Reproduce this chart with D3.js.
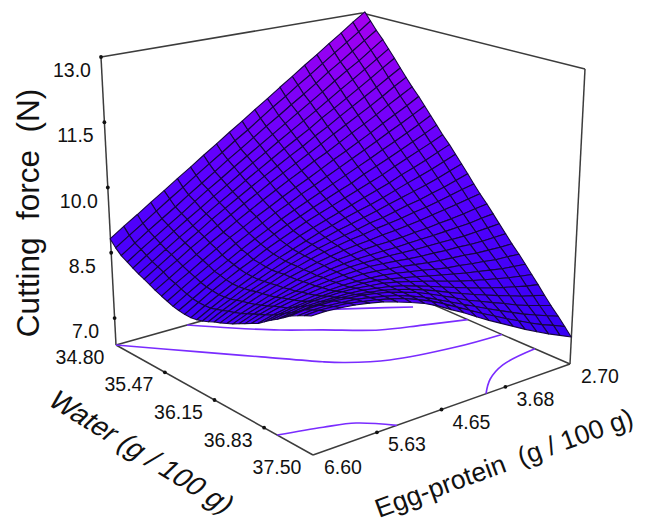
<!DOCTYPE html>
<html>
<head>
<meta charset="utf-8">
<script src="https://cdn.jsdelivr.net/npm/d3@7"></script>
<style>
body { margin: 0; background: #fff; }
text { font-family: "Liberation Sans", Arial, sans-serif; fill: #111; white-space: pre; }
</style>
</head>
<body>
<div id="chart"></div>
<script>
// values
var water = [34.8,34.88,34.96,35.05,35.13,35.21,35.29,35.37,35.45,35.54,35.62,35.7,35.78,35.86,35.95,36.03,36.11,36.19,36.27,36.35,36.44,36.52,36.6,36.68,36.76,36.85,36.93,37.01,37.09,37.17,37.25,37.34,37.42,37.5];
var egg = [2.7,2.895,3.09,3.285,3.48,3.675,3.87,4.065,4.26,4.455,4.65,4.845,5.04,5.235,5.43,5.625,5.82,6.015,6.21,6.405,6.6];
// cutting force, one row per water value, one column per egg value
var force = [
[13,12.8,12.59,12.39,12.18,11.98,11.77,11.57,11.36,11.16,10.95,10.75,10.54,10.34,10.13,9.93,9.72,9.52,9.31,9.11,8.9],
[12.82,12.61,12.41,12.21,12.01,11.8,11.61,11.4,11.21,11,10.79,10.6,10.39,10.19,9.99,9.78,9.58,9.37,9.16,8.96,8.75],
[12.64,12.44,12.24,12.04,11.85,11.64,11.44,11.25,11.05,10.86,10.66,10.46,10.27,10.06,9.86,9.66,9.45,9.25,9.05,8.84,8.63],
[12.46,12.26,12.06,11.88,11.69,11.49,11.3,11.11,10.92,10.73,10.54,10.35,10.16,9.96,9.77,9.57,9.36,9.16,8.96,8.76,8.55],
[12.28,12.09,11.9,11.71,11.53,11.34,11.15,10.97,10.79,10.61,10.42,10.24,10.05,9.86,9.67,9.47,9.28,9.08,8.88,8.68,8.47],
[12.1,11.92,11.73,11.55,11.37,11.19,11.02,10.83,10.66,10.49,10.31,10.13,9.95,9.76,9.58,9.39,9.19,9,8.8,8.6,8.4],
[11.91,11.74,11.56,11.39,11.22,11.05,10.87,10.71,10.53,10.37,10.2,10.03,9.86,9.68,9.5,9.32,9.12,8.93,8.74,8.54,8.34],
[11.73,11.57,11.39,11.22,11.06,10.9,10.74,10.57,10.41,10.25,10.09,9.93,9.76,9.59,9.41,9.23,9.05,8.87,8.67,8.48,8.28],
[11.55,11.39,11.23,11.06,10.9,10.75,10.59,10.43,10.29,10.13,9.98,9.82,9.66,9.49,9.32,9.14,8.97,8.78,8.6,8.4,8.21],
[11.37,11.21,11.06,10.91,10.75,10.6,10.45,10.31,10.16,10.01,9.87,9.72,9.56,9.41,9.24,9.08,8.9,8.72,8.53,8.35,8.15],
[11.19,11.04,10.89,10.75,10.6,10.46,10.32,10.18,10.04,9.9,9.77,9.62,9.48,9.32,9.16,9,8.82,8.66,8.48,8.29,8.1],
[11.01,10.86,10.72,10.58,10.45,10.31,10.18,10.05,9.92,9.79,9.66,9.53,9.39,9.24,9.09,8.93,8.76,8.59,8.42,8.24,8.05],
[10.83,10.69,10.56,10.43,10.3,10.18,10.06,9.92,9.81,9.69,9.57,9.44,9.32,9.18,9.03,8.88,8.72,8.56,8.38,8.2,8.02],
[10.65,10.52,10.4,10.28,10.16,10.03,9.92,9.81,9.7,9.59,9.48,9.37,9.24,9.11,8.98,8.82,8.68,8.52,8.36,8.18,8],
[10.47,10.35,10.23,10.12,10.02,9.9,9.8,9.7,9.6,9.5,9.4,9.3,9.19,9.06,8.93,8.8,8.65,8.5,8.34,8.18,8],
[10.29,10.18,10.07,9.97,9.88,9.78,9.68,9.59,9.51,9.43,9.33,9.24,9.13,9.02,8.91,8.78,8.64,8.5,8.35,8.19,8.02],
[10.11,10.01,9.91,9.82,9.74,9.66,9.58,9.5,9.42,9.35,9.28,9.19,9.11,9,8.89,8.77,8.64,8.52,8.37,8.23,8.06],
[9.93,9.84,9.75,9.68,9.6,9.54,9.47,9.4,9.35,9.28,9.22,9.15,9.08,8.99,8.89,8.78,8.66,8.54,8.41,8.27,8.11],
[9.74,9.68,9.61,9.54,9.48,9.43,9.37,9.32,9.28,9.22,9.18,9.12,9.06,8.98,8.89,8.8,8.68,8.58,8.45,8.32,8.17],
[9.56,9.51,9.45,9.4,9.35,9.3,9.26,9.22,9.19,9.15,9.12,9.08,9.02,8.96,8.88,8.8,8.7,8.6,8.48,8.36,8.22],
[9.38,9.34,9.29,9.25,9.22,9.18,9.16,9.13,9.11,9.1,9.08,9.04,9.01,8.96,8.89,8.81,8.72,8.63,8.52,8.41,8.28],
[9.2,9.17,9.13,9.11,9.09,9.07,9.06,9.05,9.03,9.03,9.02,9.01,8.98,8.94,8.88,8.83,8.75,8.66,8.57,8.47,8.34],
[9.02,9,8.98,8.96,8.96,8.96,8.96,8.96,8.97,8.98,8.98,8.98,8.97,8.94,8.9,8.85,8.77,8.71,8.62,8.53,8.41],
[8.84,8.83,8.82,8.82,8.84,8.84,8.86,8.87,8.89,8.92,8.94,8.96,8.95,8.93,8.9,8.86,8.81,8.75,8.68,8.59,8.48],
[8.66,8.66,8.67,8.68,8.71,8.73,8.75,8.78,8.82,8.86,8.89,8.92,8.94,8.93,8.92,8.89,8.84,8.79,8.73,8.65,8.55],
[8.48,8.5,8.51,8.55,8.58,8.62,8.65,8.7,8.76,8.81,8.86,8.9,8.92,8.93,8.93,8.91,8.88,8.84,8.78,8.72,8.63],
[8.3,8.33,8.36,8.41,8.46,8.51,8.57,8.63,8.69,8.76,8.82,8.88,8.93,8.95,8.95,8.95,8.93,8.9,8.86,8.8,8.73],
[8.12,8.16,8.21,8.27,8.33,8.4,8.47,8.55,8.64,8.72,8.8,8.87,8.93,8.96,8.99,9,8.99,8.98,8.94,8.89,8.83],
[7.94,7.99,8.06,8.13,8.21,8.29,8.38,8.47,8.57,8.67,8.76,8.85,8.92,8.97,9.01,9.03,9.03,9.03,9.02,8.97,8.92],
[7.75,7.83,7.9,8,8.09,8.19,8.29,8.4,8.51,8.63,8.74,8.84,8.92,8.99,9.03,9.07,9.09,9.1,9.09,9.06,9.02],
[7.57,7.66,7.75,7.85,7.97,8.08,8.2,8.31,8.45,8.58,8.71,8.83,8.92,9.01,9.07,9.12,9.14,9.17,9.17,9.16,9.12],
[7.39,7.49,7.6,7.71,7.84,7.97,8.1,8.24,8.38,8.52,8.66,8.8,8.91,9.01,9.08,9.14,9.19,9.21,9.23,9.23,9.2],
[7.21,7.33,7.44,7.57,7.71,7.85,8,8.15,8.31,8.47,8.63,8.78,8.9,9.01,9.09,9.16,9.21,9.26,9.28,9.29,9.27],
[7.03,7.16,7.29,7.43,7.58,7.74,7.9,8.06,8.23,8.41,8.57,8.74,8.88,8.99,9.09,9.18,9.24,9.29,9.32,9.34,9.33]
];
var waterTicks = ["34.80", "35.47", "36.15", "36.83", "37.50"];
var eggTicks = ["6.60", "5.63", "4.65", "3.68", "2.70"];
var forceTicks = ["7.0", "8.5", "10.0", "11.5", "13.0"];
var forceFloor = 6.38;
// contour lines on the floor as [water, egg]
var contourA = [[34.80,6.60],[35.36,5.94],[35.77,5.45],[36.17,4.97],[36.30,4.77],[36.49,4.31],[36.63,3.42],[36.67,2.70]];
var contourB = [[34.80,5.57],[35.10,5.19],[35.39,4.77],[35.62,4.35],[35.93,3.80],[36.08,3.27],[36.23,2.70]];
var contourC = [[35.20,4.03],[35.48,3.42],[35.70,2.96]];
var contourD = [[37.06,6.60],[37.17,6.09],[37.27,5.74],[37.50,5.43]];
var contourE = [[37.08,2.70],[37.16,3.35],[37.31,3.76],[37.50,4.08]];

var width = 646, height = 524;
var svg = d3.select("#chart").append("svg").attr("width", width).attr("height", height);

var uScale = d3.scaleLinear().domain([34.8, 37.5]).range([0, 1]);
var vScale = d3.scaleLinear().domain([2.7, 6.6]).range([0, 1]);
var zScale = d3.scaleLinear().domain([forceFloor, 13]).range([0, 1]);
var color = d3.scaleLinear().domain([7, 10, 13]).range(["#3400f4", "#5a00ff", "#a800f0"]);

// box corners on screen, the camera is solved from them
var D = [365, 275], C = [570, 364], B = [313, 455], A = [116, 345];
var topA = [101, 57], topC = [585, 69], topD = [362, 13];

var sx = D[0] - C[0] + B[0] - A[0], sy = D[1] - C[1] + B[1] - A[1];
var dx1 = C[0] - B[0], dx2 = A[0] - B[0], dy1 = C[1] - B[1], dy2 = A[1] - B[1];
var den = dx1 * dy2 - dx2 * dy1;
var g = (sx * dy2 - dx2 * sy) / den, h = (dx1 * sy - sx * dy1) / den;
var a = C[0] - D[0] + g * C[0], b = A[0] - D[0] + h * A[0], c = D[0];
var d = C[1] - D[1] + g * C[1], e = A[1] - D[1] + h * A[1], f = D[1];

var tops = [[topA, 0, 1], [topC, 1, 0], [topD, 0, 0]].map(function(t) {
  var w0 = 1 + g * t[1] + h * t[2];
  return { X: t[0][0], Y: t[0][1],
    rx: t[0][0] * w0 - (a * t[1] + b * t[2] + c),
    ry: t[0][1] * w0 - (d * t[1] + e * t[2] + f) };
});
var mX = d3.mean(tops, function(t) { return t.X; }), mY = d3.mean(tops, function(t) { return t.Y; });
var mRx = d3.mean(tops, function(t) { return t.rx; }), mRy = d3.mean(tops, function(t) { return t.ry; });
var p3 = -d3.sum(tops, function(t) { return (t.X - mX) * (t.rx - mRx) + (t.Y - mY) * (t.ry - mRy); }) /
  d3.sum(tops, function(t) { return (t.X - mX) * (t.X - mX) + (t.Y - mY) * (t.Y - mY); });
var p1 = mRx + mX * p3, p2 = mRy + mY * p3;

function project(wa, eg, fo) {
  var u = uScale(wa), v = vScale(eg), z = zScale(fo);
  var w = 1 + g * u + h * v + p3 * z;
  return [(a * u + b * v + c + p1 * z) / w, (d * u + e * v + f + p2 * z) / w];
}

// ticks sit evenly along the box edges in the picture
var waterEdge = d3.scaleLinear().domain([34.8, 37.5]).range([A, B]);
var eggEdge = d3.scaleLinear().domain([6.6, 2.7]).range([B, C]);
var forceEdge = d3.scaleLinear().domain([forceFloor, 13]).range([A, topA]);

var line = d3.line();

function boxEdge(p, q) {
  svg.append("path").attr("d", line([p, q]))
    .attr("fill", "none").attr("stroke", "#3c3c3c").attr("stroke-width", 1.5);
}
boxEdge(A, topA);
boxEdge(topA, topD);
boxEdge(topD, topC);
boxEdge(topC, C);
boxEdge(A, D);
boxEdge(D, C);
boxEdge(A, B);
boxEdge(B, C);

var contourLine = d3.line().curve(d3.curveCatmullRom.alpha(0.5));
[contourA, contourB, contourC, contourD, contourE].forEach(function(cn) {
  svg.append("path")
    .attr("d", contourLine(cn.map(function(p) { return project(p[0], p[1], forceFloor); })))
    .attr("fill", "none").attr("stroke", "#7a2cff").attr("stroke-width", 1.6);
});

// surface cells, far corner first
var cells = [];
for (var i = 0; i < water.length - 1; i++) {
  for (var j = 0; j < egg.length - 1; j++) {
    cells.push({ i: i, j: j });
  }
}
svg.append("g").selectAll("path").data(cells).enter().append("path")
  .attr("d", function(q) {
    return line([[q.i, q.j], [q.i + 1, q.j], [q.i + 1, q.j + 1], [q.i, q.j + 1]].map(function(n) {
      return project(water[n[0]], egg[n[1]], force[n[0]][n[1]]);
    })) + "Z";
  })
  .attr("fill", function(q) {
    return color((force[q.i][q.j] + force[q.i + 1][q.j] + force[q.i + 1][q.j + 1] + force[q.i][q.j + 1]) / 4);
  })
  .attr("stroke", "#160640").attr("stroke-width", 1.1).attr("stroke-linejoin", "round");

function tickDot(p) {
  svg.append("circle").attr("cx", p[0]).attr("cy", p[1]).attr("r", 1.9).attr("fill", "#111");
}
function tickLabel(p, dx, dy, s) {
  svg.append("text").attr("x", p[0] + dx).attr("y", p[1] + dy).attr("text-anchor", "middle")
    .attr("dominant-baseline", "central").attr("font-size", 19.5).text(s);
}
forceTicks.forEach(function(s) {
  var p = forceEdge(+s);
  tickDot(p);
  tickLabel(p, -29, 13, s);
});
waterTicks.forEach(function(s) {
  var p = waterEdge(+s);
  if (s != "37.50" && s != "34.80") tickDot(p);
  tickLabel(p, -36, 12, s);
});
eggTicks.forEach(function(s) {
  var p = eggEdge(+s);
  if (s != "6.60" && s != "2.70") tickDot(p);
  tickLabel(p, 30, 12, s);
});

svg.append("text").attr("transform", "translate(28,213) rotate(-90)")
  .attr("text-anchor", "middle").attr("dominant-baseline", "central")
  .attr("font-size", 31.5).text("Cutting  force  (N)");
svg.append("text").attr("transform", "translate(142,452) rotate(32) skewX(-14)")
  .attr("text-anchor", "middle").attr("dominant-baseline", "central")
  .attr("font-size", 28).text("Water (g / 100 g)");
svg.append("text").attr("transform", "translate(504,463) rotate(-20)")
  .attr("text-anchor", "middle").attr("dominant-baseline", "central")
  .attr("font-size", 26.5).text("Egg-protein  (g / 100 g)");
</script>
</body>
</html>
